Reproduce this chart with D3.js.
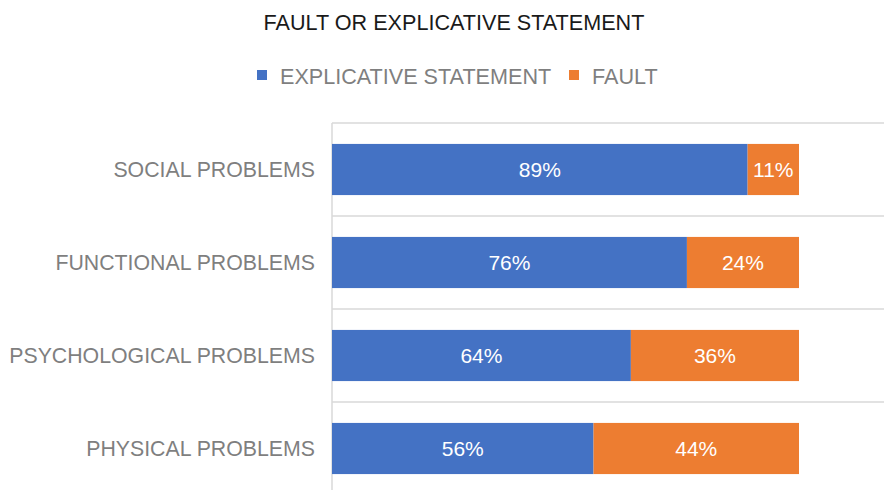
<!DOCTYPE html>
<html>
<head>
<meta charset="utf-8">
<script src="https://cdn.jsdelivr.net/npm/d3@7"></script>
<style>
  body { margin: 0; background: #fff; }
  svg { display: block; font-family: "Liberation Sans", Arial, Helvetica, sans-serif; }
</style>
</head>
<body>
<div id="chart"></div>
<script>
// data //
let categories = ["SOCIAL PROBLEMS", "FUNCTIONAL PROBLEMS", "PSYCHOLOGICAL PROBLEMS", "PHYSICAL PROBLEMS"];
let explicative = [89, 76, 64, 56];
let fault = [11, 24, 36, 44];
let seriesNames = ["EXPLICATIVE STATEMENT", "FAULT"];
let seriesColors = ["#4472C4", "#ED7D31"];

let W = 884, H = 490;
let plotLeft = 332, plotTop = 123, plotBottom = 495, fullRight = 799;

let svg = d3.select("#chart").append("svg")
    .attr("width", W)
    .attr("height", H);

let xScale = d3.scaleLinear().domain([0, 100]).range([plotLeft, fullRight]);
let yScale = d3.scaleBand().domain(categories)
    .range([plotTop, plotBottom])
    .paddingInner(0.45)
    .paddingOuter(0.225);

// gridlines between categories
let step = yScale.step();
let gridY = categories.map(function(c) { return yScale(c) - yScale.paddingInner() * step / 2; });
gridY.push(plotBottom);
svg.selectAll(".grid")
    .data(gridY)
    .enter().append("line")
    .attr("class", "grid")
    .attr("x1", plotLeft)
    .attr("x2", W)
    .attr("y1", function(d) { return d; })
    .attr("y2", function(d) { return d; })
    .attr("stroke", "#d9d9d9")
    .attr("stroke-width", 1.5);

svg.append("line")
    .attr("x1", plotLeft).attr("x2", plotLeft)
    .attr("y1", plotTop).attr("y2", plotBottom)
    .attr("stroke", "#d9d9d9")
    .attr("stroke-width", 1.5);

// stacked bars
let rows = categories.map(function(c, i) {
    return {cat: c, vals: [explicative[i], fault[i]]};
});

rows.forEach(function(r) {
    let start = 0;
    r.vals.forEach(function(v, j) {
        svg.append("rect")
            .attr("x", xScale(start))
            .attr("y", yScale(r.cat))
            .attr("width", xScale(start + v) - xScale(start))
            .attr("height", yScale.bandwidth())
            .attr("fill", seriesColors[j]);
        svg.append("text")
            .attr("x", (xScale(start) + xScale(start + v)) / 2)
            .attr("y", yScale(r.cat) + yScale.bandwidth() / 2)
            .attr("dy", "0.36em")
            .attr("text-anchor", "middle")
            .attr("fill", "#fff")
            .style("font-size", "21px")
            .text(v + "%");
        start += v;
    });
});

// category labels
svg.selectAll(".catLabel")
    .data(categories)
    .enter().append("text")
    .attr("class", "catLabel")
    .attr("x", plotLeft - 17)
    .attr("y", function(d) { return yScale(d) + yScale.bandwidth() / 2; })
    .attr("dy", "0.36em")
    .attr("text-anchor", "end")
    .attr("fill", "#7f7f7f")
    .style("font-size", "21.3px")
    .text(function(d) { return d; });

// title
svg.append("text")
    .attr("x", 454)
    .attr("y", 30)
    .attr("text-anchor", "middle")
    .attr("fill", "#1a1a1a")
    .style("font-size", "21.6px")
    .text("FAULT OR EXPLICATIVE STATEMENT");

// legend
let legendX = [257, 569];
let legend = svg.selectAll(".legend")
    .data(seriesNames)
    .enter().append("g")
    .attr("class", "legend")
    .attr("transform", function(d, i) { return "translate(" + legendX[i] + ",70)"; });

legend.append("rect")
    .attr("width", 10)
    .attr("height", 10)
    .attr("fill", function(d, i) { return seriesColors[i]; });

legend.append("text")
    .attr("x", 23)
    .attr("y", 14)
    .attr("fill", "#7f7f7f")
    .style("font-size", "21.6px")
    .text(function(d) { return d; });
</script>
</body>
</html>
